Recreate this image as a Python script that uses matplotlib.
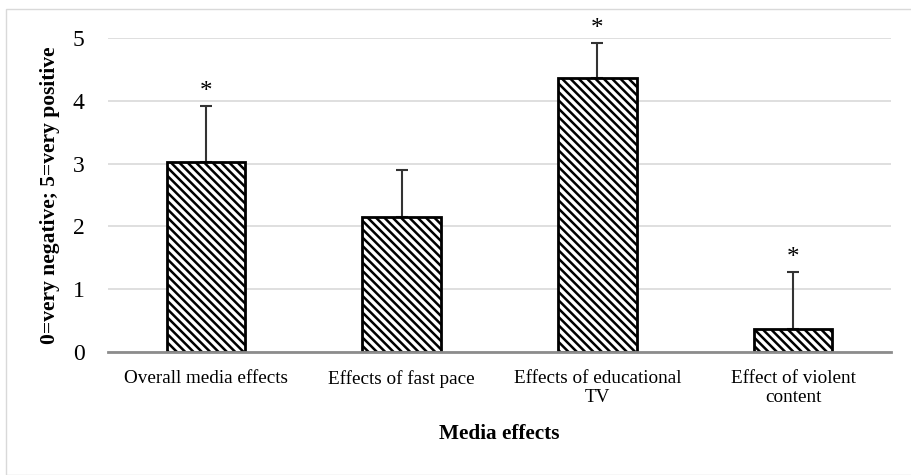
import matplotlib
matplotlib.use("Agg")
import matplotlib.pyplot as plt
from matplotlib.patches import Rectangle

categories = ["Overall media effects", "Effects of fast pace", "Effects of educational\nTV", "Effect of violent\ncontent"]
means = [3.02, 2.15, 4.36, 0.37]
err_up = [0.89, 0.75, 0.56, 0.90]
significant = [True, False, True, True]
yticks = [0, 1, 2, 3, 4, 5]

plt.rcParams['font.family'] = ['Liberation Serif', 'DejaVu Serif']
plt.rcParams['hatch.linewidth'] = 1.8

W, H = 912, 475
fig = plt.figure(figsize=(W/100, H/100), dpi=100)
ax = fig.add_axes([108/W, 1-352/H, (891-108)/W, (352-38)/H])

x = list(range(len(categories)))
bars = ax.bar(x, means, width=0.40, color='white', edgecolor='black',
              linewidth=2, hatch='\\\\\\\\', zorder=3)
ax.errorbar(x, means, yerr=[[0]*len(means), err_up], fmt='none',
            ecolor='#333333', elinewidth=1.5, capsize=4.5, capthick=1.5, zorder=2)
for xi, m, e, s in zip(x, means, err_up, significant):
    if s:
        ax.text(xi, m + e + 0.05, '*', ha='center', va='bottom', fontsize=18)

ax.set_xlim(-0.5, len(categories) - 0.5)
ax.set_ylim(0, 5)
ax.set_yticks(yticks)
ax.set_yticklabels([str(t) for t in yticks], fontsize=17)
ax.set_xticks(x)
ax.set_xticklabels(categories, fontsize=13.8, linespacing=1.15)
ax.tick_params(axis='both', length=0)
ax.tick_params(axis='y', pad=17)
ax.tick_params(axis='x', pad=13)
ax.grid(axis='y', color='#d9d9d9', linewidth=1.2, zorder=0)
for sp in ['top', 'right', 'left']:
    ax.spines[sp].set_visible(False)
ax.spines['bottom'].set_color('#8c8c8c')
ax.spines['bottom'].set_linewidth(2)
ax.spines['bottom'].set_zorder(4)

ax.set_ylabel('0=very negative; 5=very positive', fontsize=15.5, fontweight='bold', labelpad=9)
ax.set_xlabel('Media effects', fontsize=15.3, fontweight='bold', labelpad=13)

fig.patches.append(Rectangle((6/W, 0), 1.2, 1 - 9/H, transform=fig.transFigure,
                             fill=False, edgecolor='#d9d9d9', linewidth=1))

fig.savefig('out.png', dpi=100)
